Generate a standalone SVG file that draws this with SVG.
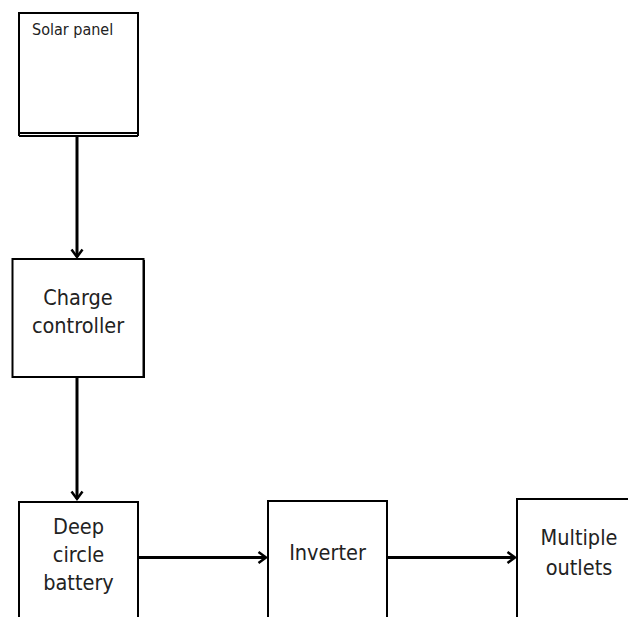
<svg xmlns="http://www.w3.org/2000/svg" width="628" height="617" viewBox="0 0 628 617">
<style>
.box{fill:#fff;stroke:#000;stroke-width:2}
.t{font-family:"DejaVu Sans Condensed","DejaVu Sans",Verdana,sans-serif;font-size:21.5px;fill:#222;text-anchor:middle}
.ts{font-family:"DejaVu Sans Condensed","DejaVu Sans",Verdana,sans-serif;font-size:16px;fill:#222}
.c{stroke:#000;stroke-width:3;fill:none}
</style>
<defs>
<marker id="ah" markerWidth="12" markerHeight="14" refX="9" refY="7" orient="auto" markerUnits="userSpaceOnUse">
<path d="M1.5,1.5 L9,7 L1.5,12.5" fill="none" stroke="#000" stroke-width="2.5"/>
</marker>
</defs>
<rect width="628" height="617" fill="#fff"/>
<g id="connectors">
<line class="c" x1="77" y1="136" x2="77" y2="257" marker-end="url(#ah)"/>
<line class="c" x1="77" y1="378" x2="77" y2="499" marker-end="url(#ah)"/>
<line class="c" x1="139" y1="557.5" x2="266" y2="557.5" marker-end="url(#ah)"/>
<line class="c" x1="388" y1="557.5" x2="515" y2="557.5" marker-end="url(#ah)"/>
</g>
<g id="solar-panel">
<rect class="box" x="19" y="13" width="119" height="120"/>
<line x1="19" y1="136" x2="138" y2="136" stroke="#000" stroke-width="2"/>
<line x1="19" y1="133" x2="19" y2="136" stroke="#000" stroke-width="2"/>
<line x1="138" y1="133" x2="138" y2="136" stroke="#000" stroke-width="2"/>
<text class="ts" x="32" y="35">Solar panel</text>
</g>
<g id="charge-controller">
<rect class="box" x="12.5" y="259" width="131" height="118"/>
<line x1="144" y1="260" x2="144" y2="378" stroke="#000" stroke-width="2"/>
<text class="t" x="78" y="305">Charge</text>
<text class="t" x="78" y="333">controller</text>
</g>
<g id="battery">
<rect class="box" x="19" y="502" width="119" height="130"/>
<text class="t" x="78.5" y="534">Deep</text>
<text class="t" x="78.5" y="562">circle</text>
<text class="t" x="78.5" y="590">battery</text>
</g>
<g id="inverter">
<rect class="box" x="268" y="501" width="119" height="130"/>
<text class="t" x="327.5" y="560">Inverter</text>
</g>
<g id="outlets">
<rect class="box" x="517" y="499" width="130" height="130"/>
<text class="t" x="579" y="545">Multiple</text>
<text class="t" x="579" y="575">outlets</text>
</g>
</svg>
